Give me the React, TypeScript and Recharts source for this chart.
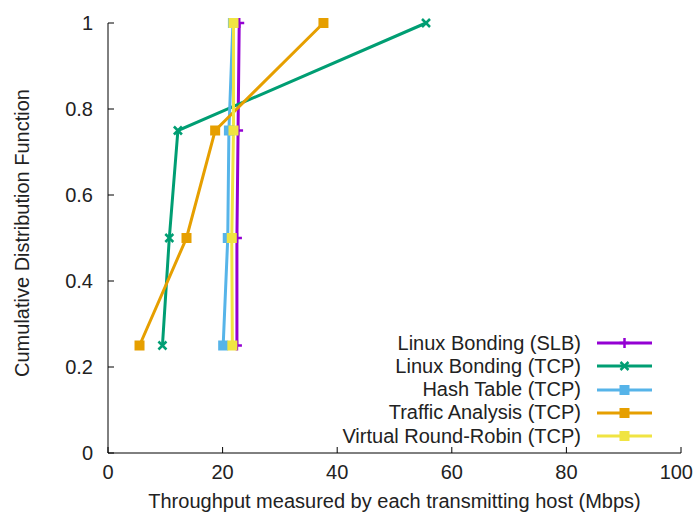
import { LineChart, Line, XAxis, YAxis } from "recharts";

const cdfLevels = [0.25, 0.5, 0.75, 1];
const slbThroughput = [22.5, 22.5, 22.7, 22.9];
const tcpThroughput = [9.5, 10.7, 12.2, 55.5];
const hashThroughput = [20.1, 20.9, 21.1, 21.8];
const trafficThroughput = [5.5, 13.7, 18.7, 37.6];
const vrrThroughput = [21.7, 21.6, 21.9, 21.9];

const xTicks = [0, 20, 40, 60, 80, 100];
const yTicks = [0, 0.2, 0.4, 0.6, 0.8, 1];

const seriesNames = [
  "Linux Bonding (SLB)",
  "Linux Bonding (TCP)",
  "Hash Table (TCP)",
  "Traffic Analysis (TCP)",
  "Virtual Round-Robin (TCP)",
];

type Marker = "plus" | "cross" | "square";

const series = [
  { name: seriesNames[0], values: slbThroughput, color: "#9400d3", marker: "plus" as Marker },
  { name: seriesNames[1], values: tcpThroughput, color: "#009e73", marker: "cross" as Marker },
  { name: seriesNames[2], values: hashThroughput, color: "#56b4e9", marker: "square" as Marker },
  { name: seriesNames[3], values: trafficThroughput, color: "#e69f00", marker: "square" as Marker },
  { name: seriesNames[4], values: vrrThroughput, color: "#f0e442", marker: "square" as Marker },
];

const FONT = '"Liberation Sans", Arial, sans-serif';
const TEXT = "#222";
const W = 694;
const H = 521;

function MarkerShape({ cx, cy, color, marker }: { cx: number; cy: number; color: string; marker: Marker }) {
  if (marker === "plus") {
    return (
      <g stroke={color} strokeWidth={2.5}>
        <line x1={cx - 5} y1={cy} x2={cx + 5} y2={cy} />
        <line x1={cx} y1={cy - 5} x2={cx} y2={cy + 5} />
      </g>
    );
  }
  if (marker === "cross") {
    return (
      <g stroke={color} strokeWidth={2.5}>
        <line x1={cx - 4} y1={cy - 4} x2={cx + 4} y2={cy + 4} />
        <line x1={cx - 4} y1={cy + 4} x2={cx + 4} y2={cy - 4} />
      </g>
    );
  }
  return <rect x={cx - 5} y={cy - 5} width={10} height={10} fill={color} />;
}

function makeDot(color: string, marker: Marker) {
  return (props: any) => {
    const { cx, cy, index } = props;
    if (cx == null || cy == null) return <g key={index} />;
    return (
      <g key={index}>
        <MarkerShape cx={cx} cy={cy} color={color} marker={marker} />
      </g>
    );
  };
}

const tickStyle = { fontSize: 20, fill: TEXT, fontFamily: FONT };

// bottom tick label; the last one is pulled in so it stays inside the picture
function XTick(props: any) {
  const { x, y, payload } = props;
  const label = String(payload.value);
  const half = label.length * 5.6;
  const nearEdge = x + half > W - 1;
  return (
    <text
      x={nearEdge ? W - 1 : x}
      y={y}
      dy="0.71em"
      textAnchor={nearEdge ? "end" : "middle"}
      {...tickStyle}
    >
      {label}
    </text>
  );
}

export default function App() {
  return (
    <div style={{ position: "absolute", left: 0, top: 0, width: W, height: H, background: "#fff" }}>
      <LineChart
        width={W}
        height={H}
        margin={{ top: 23, right: 13, bottom: 0, left: 0 }}
      >
        <XAxis
          xAxisId="b"
          type="number"
          dataKey="x"
          domain={[0, 100]}
          ticks={xTicks}
          tickSize={-6}
          tickMargin={18}
          height={68}
          stroke="#000"
          tick={<XTick />}
          label={{
            value: "Throughput measured by each transmitting host (Mbps)",
            position: "insideBottom",
            offset: 13,
            style: { fontSize: 20, fill: TEXT, fontFamily: FONT },
          }}
        />
        <XAxis
          xAxisId="t"
          orientation="top"
          type="number"
          dataKey="x"
          domain={[0, 100]}
          ticks={xTicks}
          tickSize={-6}
          tickFormatter={() => ""}
          height={0}
          stroke="#000"
        />
        <YAxis
          yAxisId="l"
          type="number"
          domain={[0, 1]}
          ticks={yTicks}
          tickSize={-6}
          tickMargin={21}
          width={108}
          stroke="#000"
          tick={tickStyle}
          label={{
            value: "Cumulative Distribution Function",
            angle: -90,
            position: "insideLeft",
            offset: 22,
            dy: -5,
            style: { textAnchor: "middle", fontSize: 20, fill: TEXT, fontFamily: FONT },
          }}
        />
        <YAxis
          yAxisId="r"
          orientation="right"
          type="number"
          domain={[0, 1]}
          ticks={yTicks}
          tickSize={-6}
          tickFormatter={() => ""}
          width={0}
          stroke="#000"
        />
        {series.map((s) => (
          <Line
            key={s.name}
            xAxisId="b"
            yAxisId="l"
            data={cdfLevels.map((p, i) => ({ x: s.values[i], y: p }))}
            dataKey="y"
            stroke={s.color}
            strokeWidth={3}
            dot={makeDot(s.color, s.marker)}
            activeDot={false}
            isAnimationActive={false}
          />
        ))}
      </LineChart>

      {/* Legend inside plot, gnuplot style */}
      <div style={{ position: "absolute", left: 301, top: 331.4, fontFamily: FONT, fontSize: 20, color: TEXT }}>
        {series.map((s) => (
          <div key={s.name} style={{ display: "flex", alignItems: "center", height: 23.3 }}>
            <div style={{ width: 280, textAlign: "right", whiteSpace: "nowrap", lineHeight: "23px" }}>{s.name}</div>
            <svg width={75} height={20} style={{ display: "block" }}>
              <line x1={16} y1={10} x2={71} y2={10} stroke={s.color} strokeWidth={3} />
              <MarkerShape cx={43.5} cy={10} color={s.color} marker={s.marker} />
            </svg>
          </div>
        ))}
      </div>
    </div>
  );
}
